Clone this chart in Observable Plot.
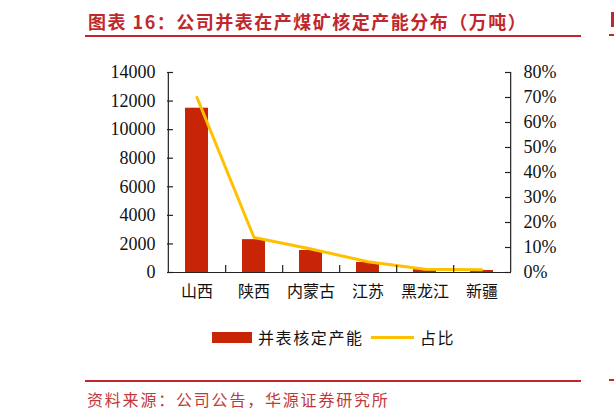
<!DOCTYPE html>
<html>
<head>
<meta charset="utf-8">
<script src="https://cdn.jsdelivr.net/npm/d3@7"></script>
<script src="https://cdn.jsdelivr.net/npm/@observablehq/plot@0.6"></script>
<style>
  html, body { margin: 0; padding: 0; background: #fff; }
  #wrap { position: relative; width: 614px; height: 419px; overflow: hidden; background: #fff; }
  #title { position: absolute; left: 88px; top: 8px; font: bold 18px "Noto Sans CJK SC"; letter-spacing: 1.5px; color: #C0282D; white-space: nowrap; }
  .hr { position: absolute; left: 85px; width: 496px; height: 2px; background: #C0282D; }
  #chart { position: absolute; left: 0; top: 0; }
  #legend { position: absolute; top: 326px; left: 0; width: 614px; height: 22px; font: 16px "Noto Sans CJK SC"; color: #111; }
  #legend .item { position: absolute; top: 0; white-space: nowrap; letter-spacing: 1.6px; line-height: 22px; }
  #source { position: absolute; left: 87px; top: 387px; font: 16px "Noto Sans CJK SC"; letter-spacing: 1.8px; color: #C0393B; white-space: nowrap; }
  #edge1 { position: absolute; left: 611px; top: 12px; width: 3px; height: 15px; background: #C0282D; }
  #edge2 { position: absolute; left: 609px; top: 34px; width: 5px; height: 2px; background: #C0282D; }
  #edge3 { position: absolute; left: 609px; top: 379px; width: 5px; height: 2px; background: #C0282D; }
</style>
</head>
<body>
<div id="wrap">
  <div id="title">图表 16：公司并表在产煤矿核定产能分布（万吨）</div>
  <div class="hr" style="top:35px"></div>
  <div id="chart"></div>
  <div id="legend">
    <div class="item" style="left:212px;top:6px;width:40px;height:11px;background:#C82506"></div>
    <div class="item" style="left:258px">并表核定产能</div>
    <div class="item" style="left:371px;top:10px;width:43px;height:2.5px;background:#FFC000"></div>
    <div class="item" style="left:420px">占比</div>
  </div>
  <div class="hr" style="top:380px"></div>
  <div id="source">资料来源：公司公告，华源证券研究所</div>
  <div id="edge1"></div><div id="edge2"></div><div id="edge3"></div>
</div>
<script>
const categories = ["山西", "陕西", "内蒙古", "江苏", "黑龙江", "新疆"];
const capacity = [11500, 2300, 1540, 700, 210, 140];
const share = [0.70, 0.14, 0.094, 0.043, 0.013, 0.011];
const leftTicks = [0, 2000, 4000, 6000, 8000, 10000, 12000, 14000];
const rightTicks = [0, 0.1, 0.2, 0.3, 0.4, 0.5, 0.6, 0.7, 0.8];

const yMax = 14000, shareMax = 0.8;
const data = categories.map((c, i) => ({cat: c, cap: capacity[i], share: share[i]}));
const rightVals = rightTicks.map(p => p * yMax / shareMax);

const W = 614, H = 310, mL = 167, mR = 103, mT = 72, mB = 38;
const innerW = W - mL - mR, innerH = H - mT - mB;
const step = innerW / categories.length;
const axisColor = "#222";

const plot = Plot.plot({
  width: W, height: H,
  marginLeft: mL, marginRight: mR, marginTop: mT, marginBottom: mB,
  style: {fontFamily: "'Liberation Serif', 'Times New Roman', serif", fontSize: "18px", color: "#111", background: "transparent"},
  x: {domain: categories, paddingInner: 0.6, paddingOuter: 0.3, axis: null},
  y: {domain: [0, yMax], axis: null},
  marks: [
    Plot.barY(data, {x: "cat", y: "cap", fill: "#C82506"}),
    Plot.line(data, {x: "cat", y: d => d.share * yMax / shareMax, stroke: "#FFC000", strokeWidth: 3}),
    // axis lines
    Plot.ruleY([0], {stroke: axisColor, strokeWidth: 1.2}),
    Plot.ruleX([categories[0]], {dx: -step / 2, stroke: axisColor, strokeWidth: 1.2}),
    Plot.ruleX([categories[categories.length - 1]], {dx: step / 2, stroke: axisColor, strokeWidth: 1.2}),
    // inward ticks
    Plot.ruleY(leftTicks, {insetRight: innerW - 6, stroke: axisColor, strokeWidth: 1.2}),
    Plot.ruleY(rightVals, {insetLeft: innerW - 6, stroke: axisColor, strokeWidth: 1.2}),
    Plot.ruleX(categories.slice(0, categories.length - 1), {dx: step / 2, insetTop: innerH - 7, stroke: axisColor, strokeWidth: 1.2}),
    // tick labels
    Plot.axisY(leftTicks, {anchor: "left", tickSize: 0, tickPadding: 12, label: null, tickFormat: d3.format("d"), fontSize: 18, fill: "#111"}),
    Plot.axisY(rightVals, {anchor: "right", tickSize: 0, tickPadding: 12, label: null, fontSize: 18, fill: "#111",
      tickFormat: d => Math.round(d / yMax * shareMax * 100) + "%"}),
    Plot.axisX(categories, {anchor: "bottom", tickSize: 0, tickPadding: 13, label: null, fontFamily: "'Noto Sans CJK SC'", fontSize: 16, fill: "#111"})
  ]
});
document.getElementById("chart").appendChild(plot);
</script>
</body>
</html>
